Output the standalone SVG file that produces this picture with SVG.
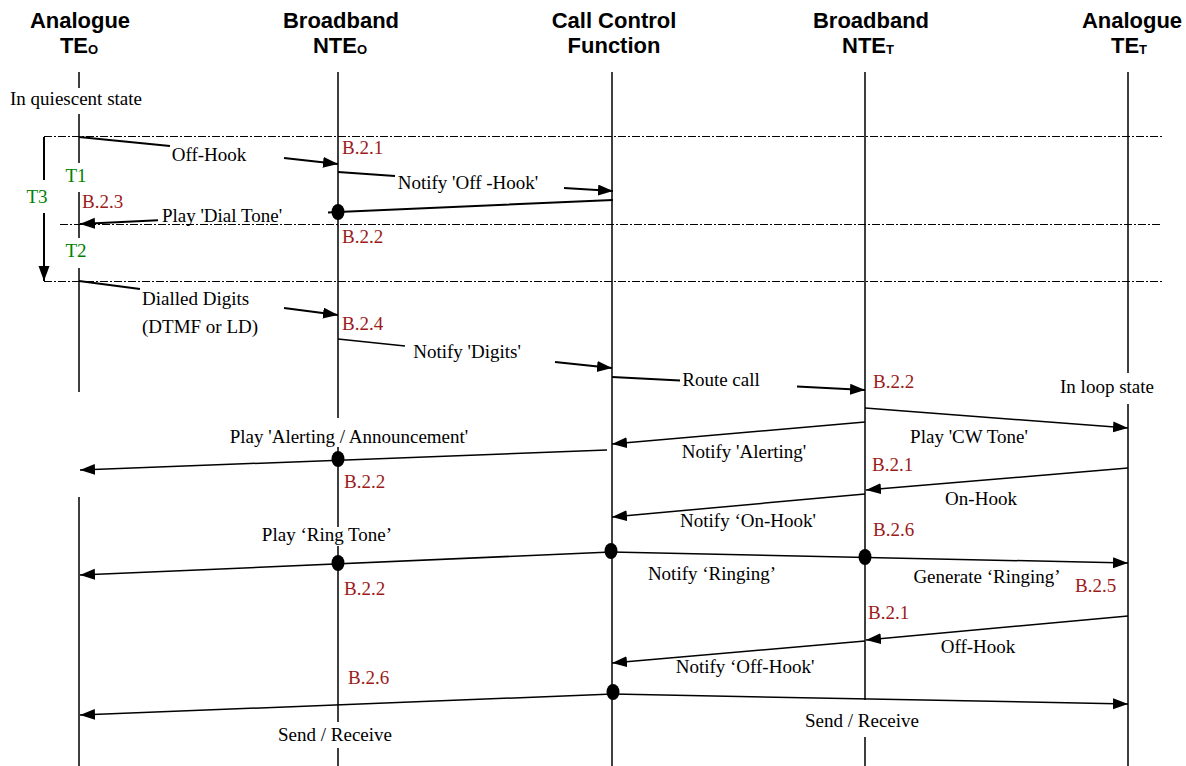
<svg xmlns="http://www.w3.org/2000/svg" width="1186" height="766" viewBox="0 0 1186 766">
<style>
.hd{font-family:"Liberation Sans",Arial,sans-serif;font-weight:bold;font-size:22px;text-anchor:middle;fill:#000}
.sub{font-size:13px}
.lb{font-family:"Liberation Serif","Times New Roman",serif;font-size:19px;fill:#000}
.c{text-anchor:middle}
.ref{fill:#9b1b1b}
.tm{fill:#008000}
.life{stroke:#000;stroke-width:1.5;fill:none}
.msg{stroke:#000;stroke-width:1.5;fill:none}
.thk{stroke-width:2}
.arr{marker-end:url(#ah)}
.sep{stroke:#000;stroke-width:1;stroke-dasharray:8 2 2 2;fill:none}
.dot{fill:#000}
</style>
<defs>
<marker id="ah" markerUnits="userSpaceOnUse" markerWidth="16" markerHeight="12" refX="15" refY="5.5" orient="auto">
<path d="M0,0 L15,5.5 L0,11 z" fill="#000"/>
</marker>
</defs>
<rect width="1186" height="766" fill="#fff"/>

<g id="te-o">
<text class="hd" x="80" y="28">Analogue</text>
<text class="hd" x="79" y="53">TE<tspan class="sub" dy="1">O</tspan></text>
<path class="life" d="M79,72V88 M79,114V163 M79,192V238 M79,268V392 M79,497V766"/>
<text class="lb c" x="76" y="105">In quiescent state</text>
</g>
<g id="nte-o">
<text class="hd" x="341" y="28">Broadband</text>
<text class="hd" x="340" y="53">NTE<tspan class="sub" dy="1">O</tspan></text>
<path class="life" d="M338,72V418 M338,447V527 M338,546V722 M338,748V766"/>
</g>
<g id="ccf">
<text class="hd" x="614" y="28">Call Control</text>
<text class="hd" x="614" y="53">Function</text>
<path class="life" d="M612,72V766"/>
</g>
<g id="nte-t">
<text class="hd" x="871" y="28">Broadband</text>
<text class="hd" x="868" y="53">NTE<tspan class="sub" dy="1">T</tspan></text>
<path class="life" d="M865,72V700 M865,737V766"/>
</g>
<g id="te-t">
<text class="hd" x="1132" y="28">Analogue</text>
<text class="hd" x="1129" y="53">TE<tspan class="sub" dy="1">T</tspan></text>
<path class="life" d="M1128,72V373 M1128,404V766"/>
<text class="lb c" x="1107" y="393">In loop state</text>
</g>

<g id="timers">
<path class="sep" d="M44,136.5H1164 M60,224.5H1162 M44,281.5H1164"/>
<path class="msg thk" d="M44,137V180"/>
<path class="msg thk arr" d="M44,213V281"/>
<text class="lb c tm" x="37" y="203">T3</text>
<text class="lb c tm" x="76" y="182">T1</text>
<text class="lb c tm" x="76" y="257">T2</text>
</g>

<g id="connectors">
<path class="msg thk" d="M79,137L170,146"/>
<path class="msg thk arr" d="M284,158L338,164"/>
<text class="lb c" x="209" y="161">Off-Hook</text>
<text class="lb ref" x="342" y="154">B.2.1</text>

<path class="msg thk" d="M338,172L395,176"/>
<path class="msg thk arr" d="M564,188L613,191"/>
<text class="lb c" x="468" y="189">Notify 'Off -Hook'</text>

<path class="msg thk" d="M613,200L338,212L328,212.5"/>
<ellipse class="dot" cx="338" cy="212" rx="6.5" ry="8"/>
<path class="msg thk arr" d="M158,220.3L80,224"/>
<text class="lb c" x="222" y="222">Play 'Dial Tone'</text>
<text class="lb ref" x="82" y="208">B.2.3</text>
<text class="lb ref" x="342" y="243">B.2.2</text>

<path class="msg thk" d="M79,281L140,289"/>
<path class="msg thk arr" d="M284,308L338,315"/>
<text class="lb" x="142" y="305">Dialled Digits</text>
<text class="lb" x="142" y="333">(DTMF or LD)</text>
<text class="lb ref" x="342" y="330">B.2.4</text>

<path class="msg" d="M338,339L405,346"/>
<path class="msg thk arr" d="M555,362L612,368"/>
<text class="lb c" x="467" y="358">Notify 'Digits'</text>

<path class="msg thk" d="M612,377L680,380.5"/>
<path class="msg thk arr" d="M797,386.5L865,390"/>
<text class="lb c" x="721" y="386">Route call</text>
<text class="lb ref" x="873" y="388">B.2.2</text>

<path class="msg arr" d="M865,408L1128,428"/>
<text class="lb c" x="969" y="443">Play 'CW Tone'</text>

<path class="msg arr" d="M865,422L612,444"/>
<text class="lb c" x="744" y="458">Notify 'Alerting'</text>

<path class="msg arr" d="M607,450L80,470"/>
<ellipse class="dot" cx="338" cy="459" rx="6.5" ry="8"/>
<text class="lb c" x="349" y="443">Play 'Alerting / Announcement'</text>
<text class="lb ref" x="344" y="488">B.2.2</text>

<text class="lb ref" x="872" y="471">B.2.1</text>
<path class="msg arr" d="M1128,468L866,490"/>
<text class="lb c" x="981" y="505">On-Hook</text>

<path class="msg arr" d="M865,494L612,517"/>
<text class="lb c" x="748" y="527">Notify ‘On-Hook'</text>
<text class="lb ref" x="873" y="536">B.2.6</text>

<path class="msg arr" d="M611,552L80,575"/>
<path class="msg arr" d="M611,552L1128,563"/>
<ellipse class="dot" cx="611" cy="551" rx="6.5" ry="8"/>
<ellipse class="dot" cx="338" cy="563" rx="6.5" ry="8"/>
<ellipse class="dot" cx="865" cy="557" rx="6.5" ry="8"/>
<text class="lb c" x="327" y="541">Play ‘Ring Tone’</text>
<text class="lb c" x="712" y="580">Notify ‘Ringing’</text>
<text class="lb c" x="987" y="583">Generate ‘Ringing’</text>
<text class="lb ref" x="1075" y="592">B.2.5</text>
<text class="lb ref" x="344" y="595">B.2.2</text>

<text class="lb ref" x="868" y="619">B.2.1</text>
<path class="msg arr" d="M1128,616L866,640"/>
<text class="lb c" x="978" y="653">Off-Hook</text>

<path class="msg arr" d="M865,641L612,663"/>
<text class="lb c" x="745" y="673">Notify ‘Off-Hook'</text>

<text class="lb ref" x="348" y="684">B.2.6</text>
<path class="msg arr" d="M613,694L80,715"/>
<path class="msg arr" d="M613,694L1128,704"/>
<ellipse class="dot" cx="613" cy="692" rx="6.5" ry="8"/>
<text class="lb c" x="862" y="727">Send / Receive</text>
<text class="lb c" x="335" y="741">Send / Receive</text>
</g>
</svg>
